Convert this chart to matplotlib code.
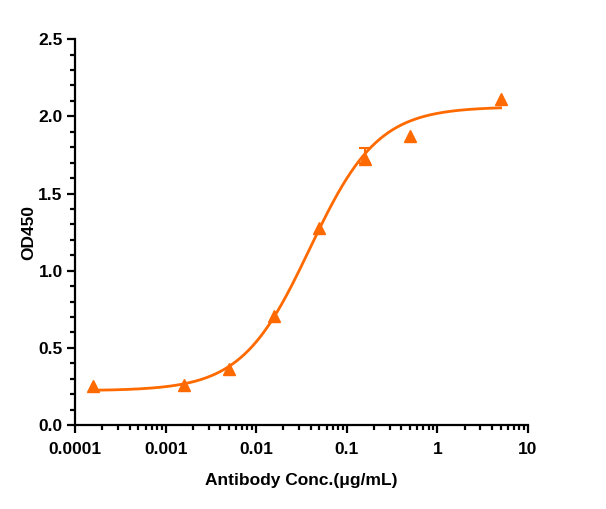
import numpy as np
import matplotlib
matplotlib.use("Agg")
import matplotlib.pyplot as plt
from matplotlib.ticker import LogLocator, MultipleLocator, FixedLocator, FixedFormatter

plt.rcParams['font.family'] = ['Liberation Sans', 'DejaVu Sans']
plt.rcParams['font.weight'] = 'bold'

# data (half-log dilutions from 5 ug/mL)
conc = [0.000158, 0.00158, 0.005, 0.0158, 0.05, 0.158, 0.5, 5.0]
od = [0.256, 0.261, 0.36, 0.704, 1.274, 1.726, 1.873, 2.113]
err_lo = [0, 0, 0, 0, 0, 0.03, 0, 0]
err_hi = [0, 0, 0, 0, 0, 0.066, 0, 0]

# 4PL fit params (estimated from the curve)
bottom = 0.222
top = 2.062
ec50 = 0.039
hill = 1.153

x_ticks = [0.0001, 0.001, 0.01, 0.1, 1, 10]
x_labels = ["0.0001", "0.001", "0.01", "0.1", "1", "10"]
y_ticks = [0.0, 0.5, 1.0, 1.5, 2.0, 2.5]
y_labels = ["0.0", "0.5", "1.0", "1.5", "2.0", "2.5"]

col = '#FF6A00'

fig = plt.figure(figsize=(6.06, 5.09), dpi=100)
ax = fig.add_axes([0.124, 0.165, 0.747, 0.758])

xs = np.logspace(np.log10(conc[0]), np.log10(conc[-1]), 300)
ys = bottom + (top - bottom) / (1 + (ec50 / xs) ** hill)
ax.plot(xs, ys, color=col, lw=2)

# only points that actually have an error bar
idx = [i for i in range(len(conc)) if err_hi[i] > 0]
ax.errorbar([conc[i] for i in idx], [od[i] for i in idx],
            yerr=[[err_lo[i] for i in idx], [err_hi[i] for i in idx]],
            fmt='none', ecolor=col, capsize=4, elinewidth=1.5, capthick=1.5)
ax.plot(conc, od, '^', color=col, ms=8, mec=col, zorder=5)

ax.set_xscale('log')
ax.set_xlim(0.0001, 10)
ax.set_ylim(0, 2.5)
ax.xaxis.set_major_locator(FixedLocator(x_ticks))
ax.xaxis.set_major_formatter(FixedFormatter(x_labels))
ax.xaxis.set_minor_locator(LogLocator(base=10, subs=np.arange(2, 10)))
ax.yaxis.set_major_locator(FixedLocator(y_ticks))
ax.yaxis.set_major_formatter(FixedFormatter(y_labels))
ax.yaxis.set_minor_locator(MultipleLocator(0.1))

for s in ['top', 'right']:
    ax.spines[s].set_visible(False)
for s in ['left', 'bottom']:
    ax.spines[s].set_linewidth(1.6)

ax.tick_params(which='major', length=6, width=1.6, labelsize=12.5)
ax.tick_params(axis='x', which='major', pad=6)
ax.tick_params(axis='y', which='major', pad=3)
ax.tick_params(which='minor', length=3.5, width=1.6)

ax.set_xlabel('Antibody Conc.(μg/mL)', fontsize=12.5, fontweight='bold', labelpad=12)
ax.set_ylabel('OD450', fontsize=12.5, fontweight='bold')
ax.yaxis.set_label_coords(-0.085, 0.5)

fig.savefig('out.png', dpi=100)
